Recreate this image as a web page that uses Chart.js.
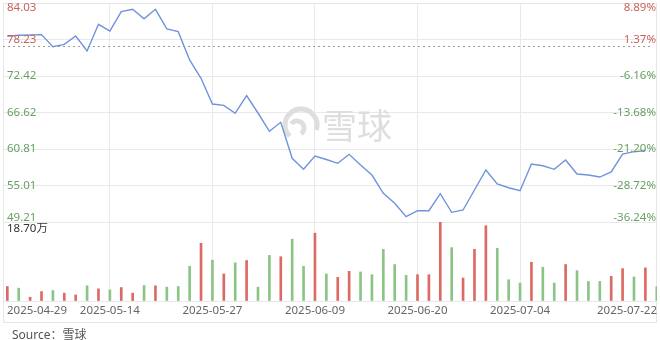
<!DOCTYPE html>
<html>
<head>
<meta charset="utf-8">
<script src="https://cdn.jsdelivr.net/npm/chart.js@4"></script>
<style>
  html, body { margin: 0; padding: 0; background: #fff; }
  #wrap { position: relative; width: 660px; height: 340px; }
  #source { position: absolute; left: 12px; top: 325px; font: 12px "Noto Sans", "Noto Sans CJK SC", sans-serif; color: #555; }
</style>
</head>
<body>
<div id="wrap">
  <canvas id="stockChart" width="660" height="340"></canvas>
  <div id="source">Source：雪球</div>
</div>
<script>
const dates = [
  '2025-04-29', '2025-04-30', '2025-05-02', '2025-05-06', '2025-05-07', '2025-05-08', '2025-05-09', '2025-05-12', '2025-05-13', '2025-05-14',
  '2025-05-15', '2025-05-16', '2025-05-19', '2025-05-20', '2025-05-21', '2025-05-22', '2025-05-23', '2025-05-26', '2025-05-27',
  '2025-05-28', '2025-05-29', '2025-05-30', '2025-06-02', '2025-06-03', '2025-06-04', '2025-06-05', '2025-06-06', '2025-06-09',
  '2025-06-10', '2025-06-11', '2025-06-12', '2025-06-13', '2025-06-16', '2025-06-17', '2025-06-18', '2025-06-19', '2025-06-20',
  '2025-06-23', '2025-06-24', '2025-06-25', '2025-06-26', '2025-06-27', '2025-06-30', '2025-07-02', '2025-07-03', '2025-07-04',
  '2025-07-07', '2025-07-08', '2025-07-09', '2025-07-10', '2025-07-11', '2025-07-14', '2025-07-15', '2025-07-16', '2025-07-17',
  '2025-07-18', '2025-07-21', '2025-07-22'
];
const shownDates = ['2025-04-29', '2025-05-14', '2025-05-27', '2025-06-09', '2025-06-20', '2025-07-04', '2025-07-22'];
const gridDates = ['2025-05-14', '2025-05-27', '2025-06-09', '2025-06-20', '2025-07-04'];

const prices = [
  78.75, 78.90, 78.95, 79.00, 77.08, 77.46, 78.78, 76.40, 80.64, 79.58,
  82.65, 83.03, 81.53, 83.03, 79.90, 79.47, 74.97, 72.06, 67.97,
  67.76, 66.49, 69.32, 66.54, 63.63, 65.06, 59.34, 57.59, 59.70,
  59.15, 58.54, 59.97, 58.27, 56.68, 53.77, 52.18, 50.05, 51.01,
  51.01, 53.71, 50.75, 51.12, 54.30, 57.48, 55.25, 54.66, 54.19,
  58.43, 58.16, 57.59, 59.07, 56.84, 56.68, 56.36, 57.16, 60.02,
  60.39, 60.55, null
];
// 成交量（万）
const volumes = [
  3.43, 3.04, 0.89, 2.23, 2.47, 1.85, 1.44, 3.60, 2.88, 2.64,
  3.19, 1.85, 3.67, 3.60, 3.28, 3.43, 8.22, 13.67, 9.66,
  6.40, 9.04, 9.59, 3.28, 10.79, 10.48, 14.62, 8.22, 16.06,
  6.40, 5.59, 7.02, 6.88, 6.23, 12.23, 8.63, 6.07, 6.23,
  6.23, 18.70, 12.63, 5.44, 12.23, 17.81, 12.47, 5.03, 4.24,
  9.18, 7.98, 4.24, 8.63, 7.19, 4.63, 4.63, 5.83, 7.67,
  5.68, 7.84, 3.43
];
const volUp = [
  1, 0, 1, 1, 0, 1, 1, 0, 1, 0,
  1, 1, 0, 1, 0, 0, 0, 1, 0,
  1, 0, 1, 0, 0, 1, 0, 0, 1,
  0, 1, 1, 0, 0, 0, 0, 0, 1,
  1, 1, 0, 1, 1, 1, 0, 0, 0,
  1, 0, 0, 1, 0, 0, 0, 1, 1,
  0, 1, 0
];
const priceTicks = [49.21, 55.01, 60.81, 66.62, 72.42, 78.23, 84.03];
const pctTicks = ['-36.24%', '-28.72%', '-21.20%', '-13.68%', '-6.16%', '1.37%', '8.89%'];
const prevClose = 77.17;
const volMax = 18.70;
const volMaxLabel = '18.70万';

const RED = '#c8625a';
const GREEN = '#68a064';
const BAR_RED = '#dc6a62';
const BAR_GREEN = '#8ac585';
const LINE_BLUE = '#6f93dc';
const GRID = '#e9e9e9';
const FONT = '"Noto Sans", "Noto Sans CJK SC", sans-serif';

const decorations = {
  id: 'decorations',
  beforeDatasetsDraw(chart) {
    const c = chart.ctx;
    const area = chart.chartArea;
    // 水印
    c.save();
    c.strokeStyle = '#dedede';
    c.lineWidth = 5;
    c.beginPath();
    c.arc(301, 125, 16, Math.PI * 0.75, Math.PI * 2.1);
    c.stroke();
    c.beginPath();
    c.arc(297, 128, 7, Math.PI * 1.2, Math.PI * 0.3);
    c.stroke();
    c.fillStyle = '#dedede';
    c.font = '35px "Noto Sans CJK SC"';
    c.textBaseline = 'middle';
    c.fillText('雪球', 322, 126);
    c.restore();

    // 外框
    c.save();
    c.strokeStyle = '#e6e6e6';
    c.lineWidth = 1;
    c.strokeRect(area.left + 0.5, area.top + 0.5, area.right - area.left - 1, 322 - area.top);
    c.restore();

    // 昨收虚线
    const y = Math.round(chart.scales.y.getPixelForValue(prevClose)) + 0.5;
    c.save();
    c.strokeStyle = '#9a9a9a';
    c.lineWidth = 1;
    c.setLineDash([2, 3]);
    c.beginPath();
    c.moveTo(area.left, y);
    c.lineTo(area.right - 4, y);
    c.stroke();
    c.restore();
  },
  afterDraw(chart) {
    const c = chart.ctx;
    const area = chart.chartArea;
    const ys = chart.scales.y;
    const xs = chart.scales.x;
    c.save();
    c.font = '11.5px ' + FONT;
    c.textBaseline = 'middle';
    priceTicks.forEach((t, i) => {
      let py = ys.getPixelForValue(t);
      py = Math.min(Math.max(py, ys.top + 5), ys.bottom - 4);
      c.fillStyle = t > prevClose ? RED : GREEN;
      c.textAlign = 'left';
      c.fillText(t.toFixed(2), area.left + 4, py);
      c.textAlign = 'right';
      c.fillText(pctTicks[i], area.right - 1, py);
    });
    c.fillStyle = '#333';
    c.textAlign = 'left';
    c.fillText(volMaxLabel, area.left + 4, chart.scales.yv.top + 7);

    c.fillStyle = '#666';
    shownDates.forEach(d => {
      const idx = dates.indexOf(d);
      const w = c.measureText(d).width;
      let px = xs.getPixelForValue(idx) - w / 2;
      px = Math.min(Math.max(px, area.left + 4), area.right - w);
      c.fillText(d, px, 311);
    });
    c.restore();
  }
};

const ctx = document.getElementById('stockChart').getContext('2d');
const chart = new Chart(ctx, {
  data: {
    datasets: [
      {
        type: 'line',
        yAxisID: 'y',
        data: prices.map((v, i) => ({ x: i, y: v })),
        borderColor: LINE_BLUE,
        borderWidth: 1.4,
        pointRadius: 0,
        tension: 0,
        order: 0
      },
      {
        type: 'bar',
        yAxisID: 'yv',
        data: volumes.map((v, i) => ({ x: i, y: v })),
        backgroundColor: volUp.map(u => u ? BAR_RED : BAR_GREEN),
        barThickness: 2,
        order: 1
      }
    ]
  },
  options: {
    responsive: false,
    animation: false,
    layout: { padding: { left: 3, right: 3, top: 3, bottom: 39 } },
    plugins: { legend: { display: false }, tooltip: { enabled: false } },
    scales: {
      x: {
        type: 'linear',
        offset: false,
        min: -0.38,
        max: 57.02,
        afterBuildTicks: s => { s.ticks = gridDates.map(d => ({ value: dates.indexOf(d) })); },
        ticks: { display: false },
        grid: { color: GRID, drawTicks: false, offset: false },
        border: { display: false }
      },
      y: {
        position: 'left',
        stack: 'main',
        stackWeight: 219,
        weight: 2,
        min: priceTicks[0],
        max: priceTicks[priceTicks.length - 1],
        afterBuildTicks: s => { s.ticks = priceTicks.map(v => ({ value: v })); },
        afterFit: s => { s.width = 0; },
        ticks: { display: false },
        grid: { color: GRID, drawTicks: false },
        border: { display: false }
      },
      yv: {
        position: 'left',
        stack: 'main',
        stackWeight: 79,
        weight: 1,
        min: 0,
        max: volMax,
        afterBuildTicks: s => { s.ticks = [0, volMax].map(v => ({ value: v })); },
        afterFit: s => { s.width = 0; },
        ticks: { display: false },
        grid: { color: GRID, drawTicks: false },
        border: { display: false }
      }
    }
  },
  plugins: [decorations]
});
</script>
</body>
</html>
